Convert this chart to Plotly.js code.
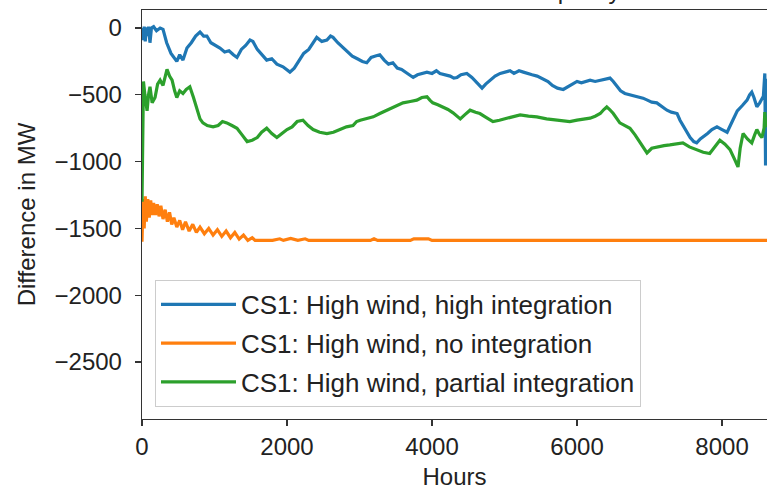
<!DOCTYPE html>
<html>
<head>
<meta charset="utf-8">
<script src="https://cdn.plot.ly/plotly-3.0.1.min.js"></script>
<style>html,body{margin:0;padding:0;background:#fff;}#chart{width:767px;height:490px;}</style>
</head>
<body>
<div id="chart"></div>
<script>
// Series names
const seriesNames = [
  "CS1: High wind, high integration",
  "CS1: High wind, no integration",
  "CS1: High wind, partial integration"
];

// Blue: high integration (hours, MW)
const highHours = [0,15,30,45,60,75,90,110,130,160,200,250,290,340,400,450,480,520,565,620,680,740,800,850,895,950,1010,1075,1140,1200,1260,1310,1370,1430,1490,1530,1590,1650,1720,1790,1860,1945,2000,2040,2100,2160,2230,2300,2360,2410,2480,2550,2600,2635,2700,2760,2830,2900,2970,3040,3100,3160,3220,3280,3340,3400,3460,3520,3580,3640,3700,3740,3800,3860,3930,4000,4060,4110,4180,4250,4300,4345,4400,4480,4550,4620,4690,4740,4800,4870,4940,5000,5075,5130,5200,5260,5310,5380,5450,5530,5600,5660,5730,5810,5870,5930,6000,6060,6120,6180,6250,6320,6400,6455,6500,6550,6600,6660,6730,6800,6860,6910,6970,7030,7100,7170,7240,7300,7380,7420,7460,7510,7560,7610,7650,7700,7740,7800,7860,7930,8000,8070,8140,8210,8280,8345,8380,8410,8440,8480,8520,8570,8590,8600,8610,8630,8660];
const highValues = [0,-90,10,-100,5,-60,10,-110,0,10,-20,0,-10,-110,-190,-230,-250,-200,-240,-150,-110,-60,-30,-60,-60,-110,-130,-150,-180,-170,-200,-220,-160,-130,-90,-100,-160,-200,-240,-230,-270,-290,-310,-330,-300,-250,-190,-160,-110,-70,-100,-90,-60,-70,-110,-140,-170,-210,-230,-250,-260,-220,-210,-200,-240,-270,-260,-300,-310,-330,-350,-370,-350,-340,-330,-340,-320,-340,-350,-360,-375,-370,-350,-340,-370,-410,-450,-420,-390,-360,-340,-330,-320,-340,-320,-330,-340,-350,-360,-380,-400,-430,-450,-460,-440,-420,-400,-410,-400,-390,-400,-390,-380,-375,-400,-440,-470,-490,-500,-510,-520,-525,-540,-555,-560,-590,-615,-630,-640,-690,-730,-780,-820,-850,-860,-830,-815,-790,-760,-740,-760,-780,-700,-620,-580,-540,-500,-480,-520,-590,-560,-510,-340,-1030,-380,-650,-600];

// Orange: no integration
const noHours = [0,15,30,45,60,80,100,120,140,160,185,210,235,260,290,320,350,380,410,440,480,520,560,600,650,700,750,800,860,920,980,1040,1100,1160,1220,1280,1340,1400,1460,1520,1560,1800,1900,1950,2050,2150,2250,2300,3150,3200,3250,3700,3750,3850,3950,4000,8760];
const noValues = [-1600,-1280,-1500,-1260,-1450,-1280,-1420,-1290,-1400,-1310,-1400,-1320,-1410,-1330,-1430,-1360,-1450,-1380,-1470,-1420,-1490,-1440,-1510,-1450,-1520,-1470,-1530,-1490,-1540,-1500,-1550,-1510,-1560,-1520,-1570,-1530,-1580,-1550,-1590,-1570,-1590,-1590,-1578,-1590,-1575,-1590,-1578,-1590,-1590,-1578,-1590,-1590,-1578,-1580,-1578,-1590,-1590];

// Green: partial integration
const partialHours = [0,8,15,20,40,70,90,110,140,180,215,250,290,320,345,380,415,450,480,520,565,610,660,710,760,800,840,900,980,1050,1110,1170,1240,1310,1380,1450,1520,1590,1650,1720,1790,1860,1930,2000,2070,2140,2220,2290,2360,2450,2550,2640,2730,2820,2910,2960,3010,3100,3190,3280,3380,3490,3600,3700,3790,3860,3930,3970,4010,4080,4150,4220,4290,4390,4450,4525,4600,4660,4750,4840,4930,5030,5120,5215,5330,5445,5580,5720,5820,5900,6000,6100,6180,6250,6320,6370,6410,6450,6500,6590,6660,6730,6800,6870,6920,6965,7030,7100,7200,7280,7370,7460,7550,7650,7740,7830,7900,7970,8040,8110,8170,8220,8250,8290,8350,8410,8450,8480,8520,8550,8580,8590,8605,8630];
const partialValues = [-1300,-1000,-700,-400,-500,-620,-500,-440,-560,-520,-420,-390,-430,-360,-310,-360,-390,-470,-520,-470,-490,-460,-440,-520,-610,-680,-710,-730,-740,-730,-700,-710,-730,-750,-800,-850,-840,-820,-780,-750,-790,-820,-790,-760,-740,-700,-690,-730,-760,-780,-790,-780,-760,-740,-730,-700,-690,-680,-665,-640,-615,-590,-560,-550,-540,-520,-515,-540,-560,-575,-590,-610,-635,-680,-650,-615,-630,-640,-670,-700,-690,-675,-660,-650,-660,-665,-680,-690,-700,-700,-690,-680,-675,-660,-640,-610,-590,-610,-640,-710,-730,-750,-800,-860,-900,-935,-900,-890,-880,-875,-870,-860,-890,-910,-930,-940,-890,-840,-870,-910,-980,-1040,-900,-790,-830,-860,-800,-760,-800,-820,-750,-630,-740,-700];

// Axis ticks
const xTickVals = [0,2000,4000,6000,8000];
const xTickText = ["0","2000","4000","6000","8000"];
const yTickVals = [0,-500,-1000,-1500,-2000,-2500];
const yTickText = ["0","\u2212500","\u22121000","\u22121500","\u22122000","\u22122500"];

const colors = ["#1f77b4","#ff7f0e","#2ca02c"];
const xs = [highHours, noHours, partialHours];
const ys = [highValues, noValues, partialValues];

const traces = seriesNames.map((n,i)=>({
  x: xs[i], y: ys[i], name: n, type: "scatter", mode: "lines",
  line: {color: colors[i], width: 3.2},
  legendgroup: "g"+i
}));

const FONT = "Liberation Sans, Arial, Helvetica, sans-serif";
const layout = {
  width: 767, height: 490,
  margin: {l: 142, r: 0, t: 10, b: 71},
  paper_bgcolor: "#ffffff", plot_bgcolor: "#ffffff",
  font: {family: FONT, size: 24, color: "#222"},
  showlegend: true,
  legend: {
    x: 0.0208, y: 0.34, xanchor: "left", yanchor: "top",
    font: {family: FONT, size: 26, color: "#222"},
    bordercolor: "#cccccc", borderwidth: 1, bgcolor: "rgba(255,255,255,0.85)",
    itemwidth: 75, tracegroupgap: 2
  },
  xaxis: {
    range: [0, 8620], tickvals: xTickVals, ticktext: xTickText,
    ticks: "outside", ticklen: 6, tickwidth: 1.25, tickcolor: "#333",
    showline: true, linecolor: "#333", linewidth: 1.25, mirror: true,
    showgrid: false, zeroline: false,
    tickfont: {family: FONT, size: 24, color: "#222"},
    title: {text: "Hours", font: {family: FONT, size: 24, color: "#222"}, standoff: 10}
  },
  yaxis: {
    range: [-2927, 135], tickvals: yTickVals, ticktext: yTickText,
    ticks: "outside", ticklen: 6, tickwidth: 1.25, tickcolor: "#333",
    showline: true, linecolor: "#333", linewidth: 1.25, mirror: false,
    showgrid: false, zeroline: false, ticklabelstandoff: 8,
    tickfont: {family: FONT, size: 24, color: "#222"},
    title: {text: "Difference in MW", font: {family: FONT, size: 24, color: "#222"}, standoff: 12}
  },
  annotations: [{
    text: "Difference in available capacity", xref: "paper", yref: "paper",
    x: 0.5, y: 1, xanchor: "center", yanchor: "bottom", yshift: 4, showarrow: false,
    font: {family: FONT, size: 24, color: "#222"}
  }]
};

Plotly.newPlot("chart", traces, layout, {displayModeBar: false, staticPlot: true});
</script>
</body>
</html>
